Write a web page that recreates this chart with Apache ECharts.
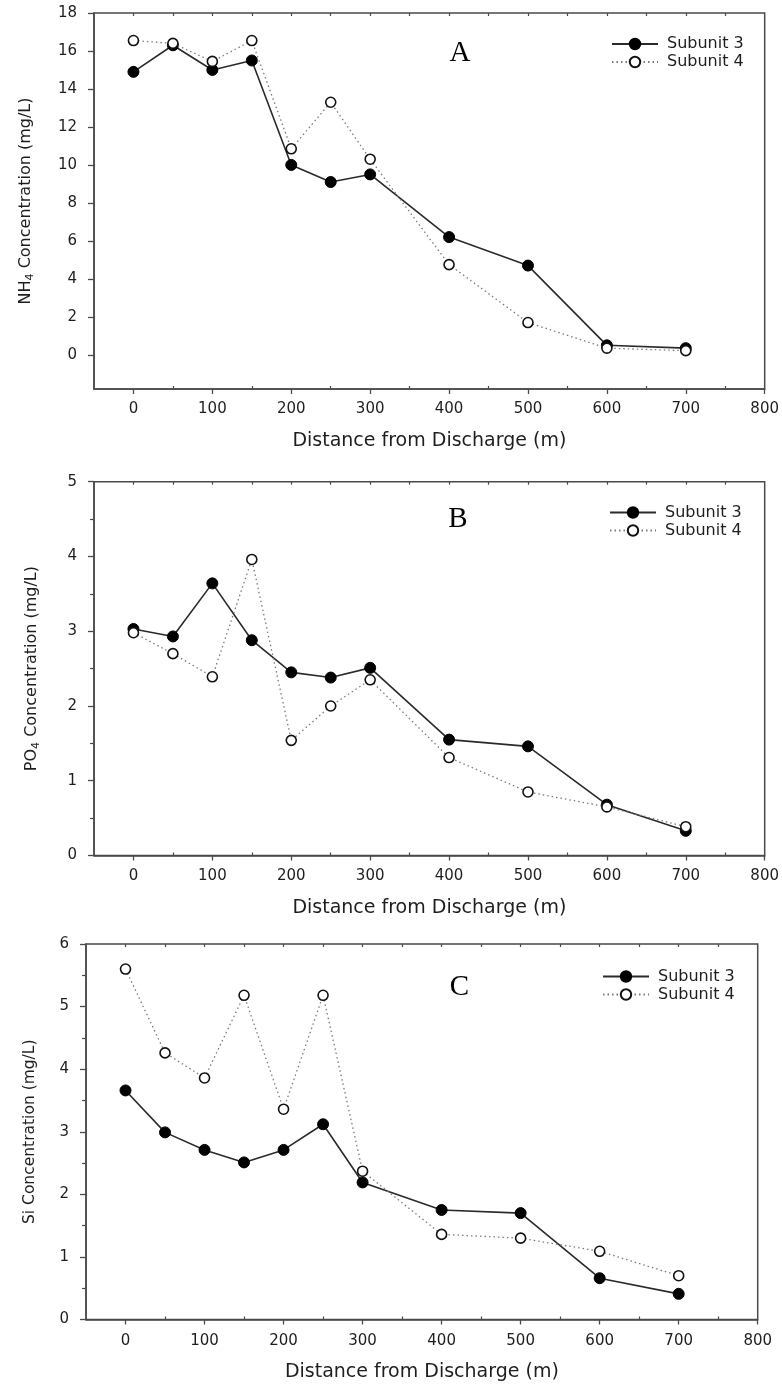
<!DOCTYPE html>
<html>
<head>
<meta charset="utf-8">
<script src="https://cdn.jsdelivr.net/npm/echarts@6/dist/echarts.min.js"></script>
<style>
  html, body { margin: 0; padding: 0; background: #fff; }
  #chart { width: 782px; height: 1386px; }
</style>
</head>
<body>
<div id="chart"></div>
<script>
// Sampling distances downstream of the discharge (m)
const distances = [0, 50, 100, 150, 200, 250, 300, 400, 500, 600, 700];

// NH4 concentration (mg/L)
const nh4Subunit3 = [14.9, 16.3, 15.0, 15.5, 10.0, 9.1, 9.5, 6.2, 4.7, 0.5, 0.35];
const nh4Subunit4 = [16.55, 16.4, 15.45, 16.55, 10.85, 13.3, 10.3, 4.75, 1.7, 0.35, 0.22];

// PO4 concentration (mg/L)
const po4Subunit3 = [3.03, 2.93, 3.64, 2.88, 2.45, 2.38, 2.51, 1.55, 1.46, 0.68, 0.33];
const po4Subunit4 = [2.98, 2.70, 2.39, 3.96, 1.54, 2.00, 2.35, 1.31, 0.85, 0.65, 0.385];

// Si concentration (mg/L)
const siSubunit3 = [3.66, 2.99, 2.71, 2.51, 2.71, 3.12, 2.19, 1.75, 1.70, 0.66, 0.41];
const siSubunit4 = [5.60, 4.26, 3.86, 5.18, 3.36, 5.18, 2.37, 1.36, 1.30, 1.09, 0.70];

// Tick values
const xMajorTicks = [0, 100, 200, 300, 400, 500, 600, 700, 800];
const xMinorTicks = [50, 150, 250, 350, 450, 550, 650, 750];
const xTopTicks = [0, 50, 100, 150, 200, 250, 300, 350, 400, 450, 500, 550, 600, 650, 700, 750];
const yTicksNH4 = [0, 2, 4, 6, 8, 10, 12, 14, 16, 18];
const yTicksPO4 = [0, 1, 2, 3, 4, 5];
const yMinorPO4 = [0.5, 1.5, 2.5, 3.5, 4.5];
const yTicksSi = [0, 1, 2, 3, 4, 5, 6];
const yMinorSi = [0.5, 1.5, 2.5, 3.5, 4.5, 5.5];

const seriesNames = ['Subunit 3', 'Subunit 4'];
const panelLetters = ['A', 'B', 'C'];
const xTitle = 'Distance from Discharge (m)';

const FONT = 'DejaVu Sans';
const AXIS_COLOR = '#4a4a4a';
const TEXT_COLOR = '#1e1e1e';

// Panel layout: plot-area placement and axis ranges
const panels = [
  {
    letter: panelLetters[0],
    s3: nh4Subunit3, s4: nh4Subunit4,
    grid: { left: 94, right: 16, top: 13, height: 376 },
    yMin: -1.8, yMax: 18, yTicks: yTicksNH4, yMinor: null,
    yName: '{n|NH}{s|4}{n| Concentration (mg/L)}', yNameSize: 16, yNameGap: 58,
    xLabelMargin: 13,
    letterPos: [460, 53],
    legendPos: { left: 611, top: 35 }
  },
  {
    letter: panelLetters[1],
    s3: po4Subunit3, s4: po4Subunit4,
    grid: { left: 94, right: 16.5, top: 481.7, height: 373.8 },
    yMin: 0, yMax: 5, yTicks: yTicksPO4, yMinor: yMinorPO4,
    yName: '{n|PO}{s|4}{n| Concentration (mg/L)}', yNameSize: 16, yNameGap: 52,
    xLabelMargin: 13.5,
    letterPos: [458, 519],
    legendPos: { left: 609, top: 503.5 }
  },
  {
    letter: panelLetters[2],
    s3: siSubunit3, s4: siSubunit4,
    grid: { left: 86, right: 24.3, top: 944, height: 375.5 },
    yMin: 0, yMax: 6, yTicks: yTicksSi, yMinor: yMinorSi,
    yName: '{n|Si Concentration (mg/L)}', yNameSize: 15.5, yNameGap: 46,
    xLabelMargin: 14.5,
    letterPos: [459.5, 987],
    legendPos: { left: 602, top: 967.5 }
  }
];

const grids = [], xAxes = [], yAxes = [], series = [], legends = [], graphics = [];

panels.forEach((p, i) => {
  grids.push(Object.assign({
    show: true,
    borderColor: AXIS_COLOR,
    borderWidth: 1.5,
    backgroundColor: 'transparent',
    containLabel: false
  }, p.grid));

  // bottom axis with labelled major ticks pointing outward
  xAxes.push({
    gridIndex: i,
    type: 'value',
    min: -50, max: 800, interval: 50,
    position: 'bottom',
    name: xTitle,
    nameLocation: 'middle',
    nameGap: 43,
    nameTextStyle: { fontFamily: FONT, fontSize: 19, color: TEXT_COLOR },
    axisLine: { show: true, onZero: false, lineStyle: { color: AXIS_COLOR, width: 1.5 } },
    axisTick: { show: true, inside: false, length: 5, customValues: xMajorTicks,
                lineStyle: { color: AXIS_COLOR, width: 1.3 } },
    axisLabel: { show: true, customValues: xMajorTicks, margin: p.xLabelMargin,
                 fontFamily: FONT, fontSize: 15, color: TEXT_COLOR },
    splitLine: { show: false }
  });
  // bottom axis: short inner minor ticks
  xAxes.push({
    gridIndex: i,
    type: 'value',
    min: -50, max: 800, interval: 50,
    position: 'bottom',
    axisLine: { show: false, onZero: false },
    axisTick: { show: true, inside: true, length: 3, customValues: xMinorTicks,
                lineStyle: { color: AXIS_COLOR, width: 1.2 } },
    axisLabel: { show: false },
    splitLine: { show: false }
  });
  // top frame ticks
  xAxes.push({
    gridIndex: i,
    type: 'value',
    min: -50, max: 800, interval: 50,
    position: 'top',
    axisLine: { show: false, onZero: false },
    axisTick: { show: true, inside: true, length: 3, customValues: xTopTicks,
                lineStyle: { color: AXIS_COLOR, width: 1.2 } },
    axisLabel: { show: false },
    splitLine: { show: false }
  });

  // left axis with labelled major ticks
  yAxes.push({
    gridIndex: i,
    type: 'value',
    min: p.yMin, max: p.yMax,
    position: 'left',
    name: p.yName,
    nameLocation: 'middle',
    nameGap: p.yNameGap,
    nameTextStyle: {
      rich: {
        n: { fontFamily: FONT, fontSize: p.yNameSize, color: TEXT_COLOR, lineHeight: 20 },
        s: { fontFamily: FONT, fontSize: 11, color: TEXT_COLOR, lineHeight: 10, verticalAlign: 'bottom' }
      }
    },
    axisLine: { show: true, onZero: false, lineStyle: { color: AXIS_COLOR, width: 1.5 } },
    axisTick: { show: true, inside: false, length: 6, customValues: p.yTicks,
                lineStyle: { color: AXIS_COLOR, width: 1.3 } },
    axisLabel: { show: true, customValues: p.yTicks, margin: 17,
                 fontFamily: FONT, fontSize: 15, color: TEXT_COLOR },
    splitLine: { show: false }
  });
  // left axis: minor ticks
  yAxes.push({
    gridIndex: i,
    type: 'value',
    min: p.yMin, max: p.yMax,
    position: 'left',
    axisLine: { show: false, onZero: false },
    axisTick: p.yMinor
      ? { show: true, inside: false, length: 4, customValues: p.yMinor,
          lineStyle: { color: AXIS_COLOR, width: 1.2 } }
      : { show: false },
    axisLabel: { show: false },
    splitLine: { show: false }
  });

  const pairs = (vals) => distances.map((d, k) => [d, vals[k]]);

  series.push({
    name: seriesNames[0],
    type: 'line',
    xAxisIndex: i * 3,
    yAxisIndex: i * 2,
    data: pairs(p.s3),
    symbol: 'circle',
    symbolSize: 11,
    lineStyle: { color: '#2a2a2a', width: 1.6, type: 'solid' },
    itemStyle: { color: '#000', borderColor: '#000', borderWidth: 1 },
    emphasis: { disabled: true },
    animation: false,
    z: 3
  });
  series.push({
    name: seriesNames[1],
    type: 'line',
    xAxisIndex: i * 3,
    yAxisIndex: i * 2,
    data: pairs(p.s4),
    symbol: 'circle',
    symbolSize: 10,
    lineStyle: { color: '#7a7a7a', width: 1.3, type: [1.5, 3] },
    itemStyle: { color: '#fff', borderColor: '#111', borderWidth: 1.6 },
    emphasis: { disabled: true },
    animation: false,
    z: 4
  });

  legends.push({
    orient: 'vertical',
    left: p.legendPos.left,
    top: p.legendPos.top,
    padding: 0,
    itemGap: 0,
    itemWidth: 46,
    itemHeight: 13,
    selectedMode: false,
    data: seriesNames,
    textStyle: { fontFamily: FONT, fontSize: 16, color: TEXT_COLOR, lineHeight: 18, padding: [0, 0, 0, 4] }
  });

  graphics.push({
    type: 'text',
    x: p.letterPos[0],
    y: p.letterPos[1],
    style: {
      text: p.letter,
      fontFamily: 'Liberation Serif',
      fontSize: 29,
      fill: '#000',
      textAlign: 'center',
      textVerticalAlign: 'middle'
    }
  });
});

const chart = echarts.init(document.getElementById('chart'), null, { renderer: 'canvas' });
chart.setOption({
  backgroundColor: '#fff',
  animation: false,
  grid: grids,
  xAxis: xAxes,
  yAxis: yAxes,
  legend: legends,
  series: series,
  graphic: graphics
});
</script>
</body>
</html>
